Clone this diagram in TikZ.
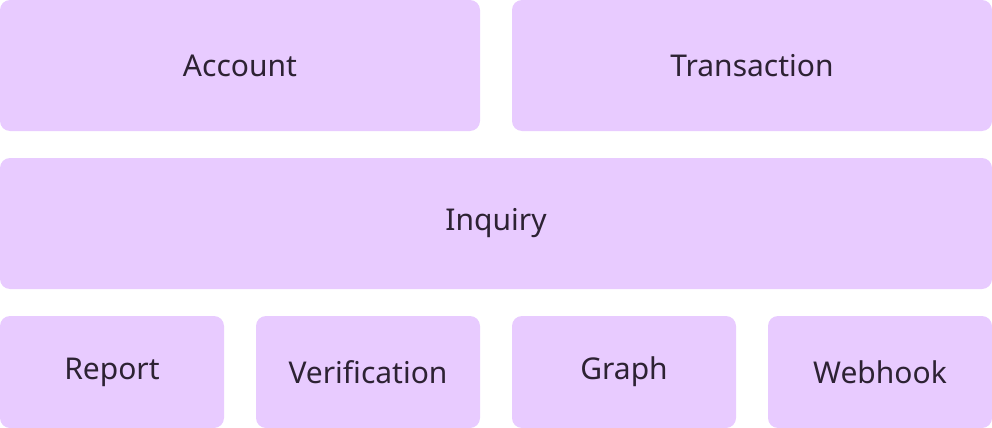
\documentclass[tikz,border=0pt]{standalone}
\usepackage{fontspec}
\setmainfont{Noto Sans}
\definecolor{boxfill}{HTML}{E8CBFF}
\definecolor{boxtext}{HTML}{2D2233}
\tikzset{
    block/.style = {rectangle, rounded corners = 5pt, fill = boxfill, text = boxtext,
        inner sep = 0pt, font = \fontsize{15}{18}\selectfont},
}
\begin{document}
\begin{tikzpicture}[x = 0.5pt, y = -0.5pt]
    \useasboundingbox (0, 0) rectangle (992, 428);
    \node [block, minimum width = 240pt, minimum height = 65.5pt] (account) at (240, 65.5) {Account};
    \node [block, minimum width = 240pt, minimum height = 65.5pt] (transaction) at (752, 65.5) {Transaction};
    \node [block, minimum width = 496pt, minimum height = 65.5pt] (inquiry) at (496, 223.5) {Inquiry};
    \node [block, minimum width = 112pt, minimum height = 56pt] (report) at (112, 372) {Report};
    \node [block, minimum width = 112pt, minimum height = 56pt] (verification) at (368, 372) {Verification};
    \node [block, minimum width = 112pt, minimum height = 56pt] (graph) at (624, 372) {Graph};
    \node [block, minimum width = 112pt, minimum height = 56pt] (webhook) at (880, 372) {Webhook};
\end{tikzpicture}
\end{document}
